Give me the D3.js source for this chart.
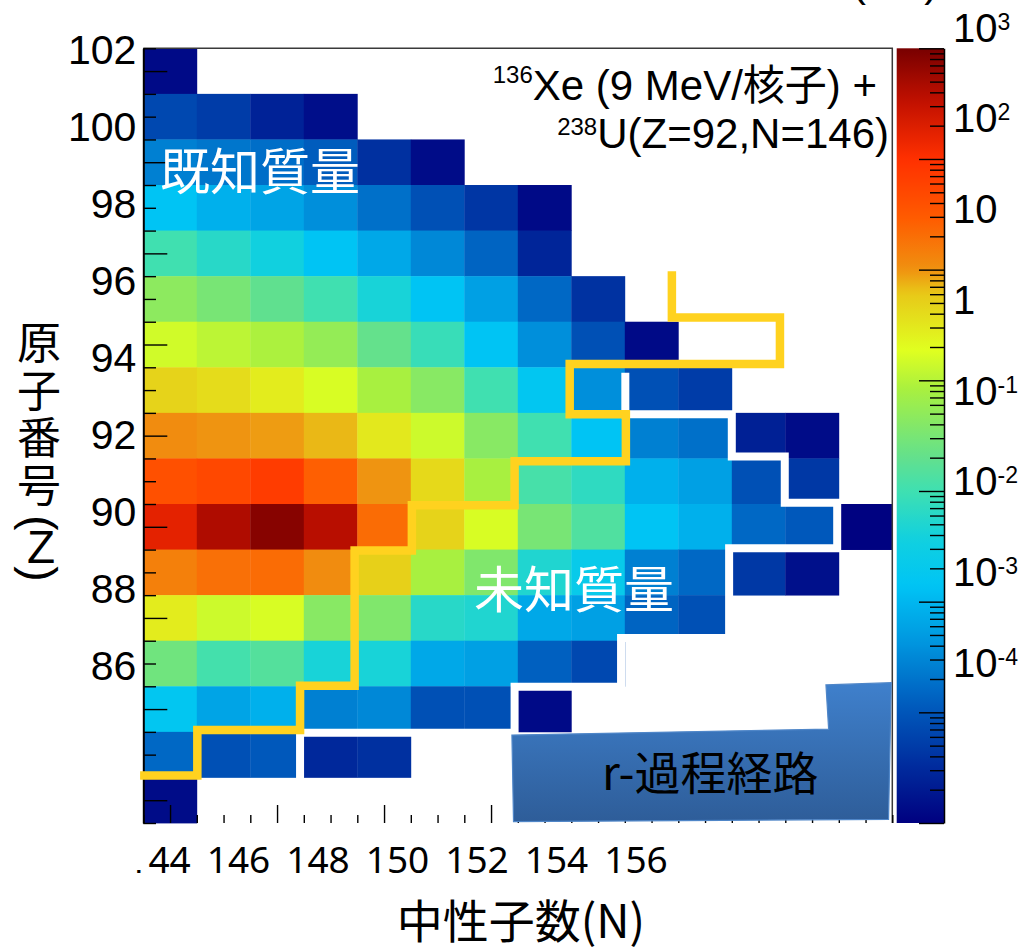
<!DOCTYPE html>
<html>
<head>
<meta charset="utf-8">
<script src="https://d3js.org/d3.v7.min.js"></script>
<style>
  body { margin: 0; background: white; }
  svg { display: block; }
  .ann { font-family: "Liberation Sans", Arial, "Noto Sans CJK JP", sans-serif; }
  .cjk { font-family: "Noto Sans CJK JP", sans-serif; }
</style>
</head>
<body>
<svg id="chart" width="1025" height="949"></svg>
<script>
// columns: neutron number N, rows: proton number Z (top row = 102)
var nValues = d3.range(144, 158);
var zValues = d3.range(102, 85, -1);

// log10 of the yield, each row starts at N = 144
var row102 = [-3.88];
var row101 = [-3.16, -3.30, -3.60, -3.83];
var row100 = [-2.58, -2.68, -2.75, -2.93, -3.43, -3.86];
var row99  = [-1.85, -2.07, -2.21, -2.43, -2.73, -3.07, -3.36, -3.88];
var row98  = [-0.99, -1.22, -1.44, -1.85, -2.17, -2.50, -2.85, -3.56];
var row97  = [-0.33, -0.51, -0.72, -0.99, -1.37, -1.85, -2.26, -2.81, -3.41];
var row96  = [0.17, 0.04, -0.06, -0.26, -0.69, -1.07, -1.85, -2.43, -3.07, -3.88];
var row95  = [0.68, 0.60, 0.45, 0.22, -0.09, -0.37, -0.99, -1.80, -2.43, -3.07, -3.30];
var row94  = [1.04, 0.99, 0.96, 0.85, 0.49, 0.14, -0.37, -0.99, -1.85, -2.58, -2.73, -3.62, -3.86];
var row93  = [1.60, 1.70, 1.85, 1.43, 0.99, 0.63, -0.09, -0.93, -1.15, -2.07, -2.26, -3.07, -3.34];
var row92  = [2.23, 2.64, 2.90, 2.58, 1.32, 0.68, 0.22, -0.51, -0.86, -1.85, -2.07, -2.81, -2.98, -3.98];
var row91  = [1.14, 1.28, 1.32, 1.04, 0.71, -0.09, -0.44, -1.29, -1.65, -2.58, -2.81, -3.34, -3.81];
var row90  = [0.45, 0.14, 0.22, -0.37, -0.44, -1.22, -1.29, -2.17, -2.26, -2.85, -3.07];
var row89  = [-0.58, -0.96, -0.82, -1.37, -1.37, -2.17, -2.26, -2.89, -3.16];
var row88  = [-1.80, -2.21, -2.07, -2.58, -2.50, -3.07, -3.07, -3.88];
var row87  = [-2.81, -3.07, -2.98, -3.53, -3.43];
var row86  = [-3.86];
var rows = [row102, row101, row100, row99, row98, row97, row96, row95, row94,
            row93, row92, row91, row90, row89, row88, row87, row86];

// tick labels as printed
var zLabels = [102, 100, 98, 96, 94, 92, 90, 88, 86];
var nLabels = [144, 146, 148, 150, 152, 154, 156];
var cbExponents = [3, 2, 1, 0, -1, -2, -3, -4];

// boundary of known masses (yellow) and of the unknown region (white), in (N, Z)
var knownEdge = [[143.44, 86.54], [144.51, 86.54], [144.51, 87.54], [146.43, 87.54], [146.43, 88.51],
  [147.45, 88.51], [147.45, 91.48], [148.52, 91.48], [148.52, 92.47], [150.44, 92.47], [150.44, 93.44],
  [152.52, 93.44], [152.52, 94.47], [151.47, 94.47], [151.47, 95.57], [155.4, 95.57], [155.4, 96.59],
  [153.38, 96.59], [153.38, 97.61]];
var unknownEdge = [[146.43, 86.49], [146.43, 87.48], [150.44, 87.48], [150.44, 88.49], [152.43, 88.49],
  [152.43, 89.56], [154.45, 89.56], [154.45, 91.53], [156.47, 91.53], [156.47, 92.53], [155.49, 92.53],
  [155.49, 93.54], [154.5, 93.54], [154.5, 94.47], [152.51, 94.47], [152.51, 95.38]];
var rProcessBox = [[150.39, 87.43], [150.42, 85.53], [157.43, 85.58], [157.48, 88.58], [156.26, 88.53],
  [156.31, 87.56]];

var svg = d3.select("#chart");
var pLeft = 143.3, pRight = 892.3, pTop = 48.3, pBottom = 823;

var x = d3.scaleBand().domain(nValues).range([pLeft, pRight]);
var y = d3.scaleBand().domain(zValues).range([pTop, pBottom]);
var xLin = d3.scaleLinear().domain([143.5, 157.5]).range([pLeft, pRight]);
var yLin = d3.scaleLinear().domain([102.5, 85.5]).range([pTop, pBottom]);

var tStops = [0, 0.081, 0.159, 0.236, 0.288, 0.307, 0.365, 0.43, 0.468, 0.559, 0.61, 0.684, 0.715, 0.782, 0.857, 0.933, 1];
var cStops = ["#000080", "#0030a0", "#0060c0", "#0098e0", "#00b8f0", "#00c4f4", "#10d0e0", "#40e0b0", "#60e090",
  "#a8f040", "#e0ff20", "#e8c818", "#f09010", "#ff5a00", "#ff3000", "#c01000", "#780000"];
var palette = d3.scaleLinear().domain(tStops).range(cStops).interpolate(d3.interpolateRgb).clamp(true);
var logMin = -4, logMax = 3;
var color = v => palette((v - logMin) / (logMax - logMin));

var cells = [];
rows.forEach((r, i) => r.forEach((v, j) => cells.push({n: nValues[j], z: zValues[i], v: v})));

svg.append("g").selectAll("rect").data(cells).join("rect")
  .attr("x", d => x(d.n)).attr("y", d => y(d.z))
  .attr("width", x.bandwidth() + 0.4).attr("height", y.bandwidth() + 0.4)
  .attr("fill", d => color(d.v));

// frame
svg.append("path")
  .attr("d", "M" + pLeft + "," + pTop + "H" + pRight + "V" + pBottom)
  .attr("fill", "none").attr("stroke", "#3a3a3a").attr("stroke-width", 1.5);

// y ticks
var zMinor = d3.range(85.5, 102.51, 0.5).filter(v => !(v % 2 == 0));
svg.append("g").attr("transform", "translate(" + pLeft + ",0)")
  .call(d3.axisRight(yLin).tickValues(zMinor).tickSize(12.7).tickSizeOuter(0).tickFormat(""))
  .call(g => g.select(".domain").remove());
svg.append("g").attr("transform", "translate(" + pLeft + ",0)")
  .call(d3.axisRight(yLin).tickValues(d3.range(86, 103, 2)).tickSize(24).tickSizeOuter(0).tickFormat(""))
  .call(g => g.select(".domain").attr("stroke-width", 2));

// x ticks
var nMinor = d3.range(143.5, 157.51, 0.5).filter(v => !(v % 2 == 0 && v <= 156));
svg.append("g").attr("transform", "translate(0," + pBottom + ")")
  .call(d3.axisTop(xLin).tickValues(nMinor).tickSize(8).tickSizeOuter(0).tickFormat(""))
  .call(g => g.select(".domain").remove());
svg.append("g").attr("transform", "translate(0," + pBottom + ")")
  .call(d3.axisTop(xLin).tickValues(d3.range(144, 157, 2)).tickSize(18).tickSizeOuter(0).tickFormat(""))
  .call(g => g.select(".domain").remove());
svg.selectAll(".tick line").attr("stroke", "#000").attr("stroke-width", 1.4);

// boundary lines
var line = d3.line().x(d => xLin(d[0])).y(d => yLin(d[1]));
svg.append("path").attr("d", line(unknownEdge))
  .attr("fill", "none").attr("stroke", "#ffffff").attr("stroke-width", 8);
svg.append("path").attr("d", line(knownEdge))
  .attr("fill", "none").attr("stroke", "#ffd21f").attr("stroke-width", 8.5);

// r-process box
var defs = svg.append("defs");
var bg = defs.append("linearGradient").attr("id", "boxGrad")
  .attr("x1", 0).attr("y1", 0).attr("x2", 0).attr("y2", 1);
bg.append("stop").attr("offset", 0).attr("stop-color", "#3f80cc");
bg.append("stop").attr("offset", 1).attr("stop-color", "#2e5d99");
svg.append("path").attr("d", line(rProcessBox) + "Z")
  .attr("fill", "url(#boxGrad)").attr("stroke", "#4f86c8").attr("stroke-width", 1.2);

// labels in the plot
svg.append("text").attr("class", "cjk").attr("x", 160).attr("y", 189.5)
  .attr("font-size", 50).attr("fill", "#fff").text("既知質量");
svg.append("text").attr("class", "cjk").attr("x", 474).attr("y", 608)
  .attr("font-size", 50).attr("fill", "#fff").text("未知質量");
svg.append("text").attr("class", "cjk").attr("x", 602).attr("y", 790)
  .attr("font-size", 46).attr("fill", "#000").text("r-過程経路");

var t1 = svg.append("text").attr("class", "ann").attr("x", 877).attr("y", 99.5)
  .attr("text-anchor", "end").attr("font-size", 42);
t1.append("tspan").attr("font-size", 24).attr("dy", -16.5).text("136");
t1.append("tspan").attr("dy", 16.5).text("Xe (9 MeV/核子) +");
var t2 = svg.append("text").attr("class", "ann").attr("x", 889).attr("y", 148.3)
  .attr("text-anchor", "end").attr("font-size", 42);
t2.append("tspan").attr("font-size", 24).attr("dy", -13.5).text("238");
t2.append("tspan").attr("dy", 13.5).text("U(Z=92,N=146)");

// y tick labels
var yLabel = d3.scaleLinear().domain([102, 86]).range([48.5, 665]);
svg.append("g").attr("transform", "translate(" + pLeft + ",0)")
  .call(d3.axisLeft(yLabel).tickValues(zLabels).tickSize(0).tickPadding(7))
  .call(g => g.select(".domain").remove())
  .call(g => g.selectAll("text").attr("font-family", "'Liberation Sans', Arial, sans-serif")
    .attr("font-size", 41).attr("dy", "0.36em").attr("fill", "#000"));

// x tick labels
var xLabel = d3.scaleLinear().domain([144, 156]).range([158.5, 635.5]);
svg.append("g").attr("transform", "translate(0," + pBottom + ")")
  .call(d3.axisBottom(xLabel).tickValues(nLabels).tickSize(0).tickPadding(24))
  .call(g => g.select(".domain").remove())
  .call(g => g.selectAll("text").attr("font-family", "'Noto Sans', sans-serif")
    .attr("font-size", 37).attr("fill", "#000"));
svg.append("rect").attr("x", 122).attr("y", 835).attr("width", 23).attr("height", 35).attr("fill", "#fff");

// axis titles
svg.append("text").attr("class", "cjk").attr("x", 521).attr("y", 938)
  .attr("text-anchor", "middle").attr("font-size", 46).text("中性子数(N)");
var yTitle = ["原", "子", "番", "号"];
svg.append("g").selectAll("text").data(yTitle).join("text").attr("class", "cjk")
  .attr("x", 39).attr("y", (d, i) => 359 + i * 47.6)
  .attr("text-anchor", "middle").attr("font-size", 44).text(d => d);
svg.append("text").attr("class", "ann").attr("transform", "translate(36,523) rotate(90)")
  .attr("text-anchor", "middle").attr("dy", "0.26em").attr("font-size", 46).text("(");
svg.append("text").attr("class", "ann").attr("x", 41).attr("y", 563)
  .attr("text-anchor", "middle").attr("font-size", 46).text("Z");
svg.append("text").attr("class", "ann").attr("transform", "translate(36,574) rotate(90)")
  .attr("text-anchor", "middle").attr("dy", "0.26em").attr("font-size", 46).text(")");

// colour bar
var cbX = 896.7, cbW = 47.3;
var grad = defs.append("linearGradient").attr("id", "cbGrad")
  .attr("x1", 0).attr("y1", 1).attr("x2", 0).attr("y2", 0);
grad.selectAll("stop").data(d3.range(0, 1.0001, 0.01)).join("stop")
  .attr("offset", d => d).attr("stop-color", d => palette(d));
svg.append("rect").attr("x", cbX).attr("y", pTop).attr("width", cbW).attr("height", pBottom - pTop)
  .attr("fill", "url(#cbGrad)");

var cScale = d3.scaleLog().domain([1e-4, 1e3]).range([pBottom, pTop]);
var decades = d3.range(-4, 4).map(e => Math.pow(10, e));
var minors = [];
d3.range(-4, 3).forEach(e => d3.range(2, 10).forEach(k => minors.push(k * Math.pow(10, e))));
svg.append("g").attr("transform", "translate(" + (cbX + cbW) + ",0)")
  .call(d3.axisLeft(cScale).tickValues(minors).tickSize(14).tickSizeOuter(0).tickFormat(""))
  .call(g => g.select(".domain").remove());
svg.append("g").attr("transform", "translate(" + (cbX + cbW) + ",0)")
  .call(d3.axisLeft(cScale).tickValues(decades).tickSize(25).tickSizeOuter(0).tickFormat(""))
  .call(g => g.select(".domain").attr("stroke-width", 1.5));
svg.selectAll(".tick line").attr("stroke", "#000").attr("stroke-width", 1.4);

var cbLabel = d3.scaleLinear().domain([3, -4]).range([41.7, 676.6]);
var cbText = svg.append("g").selectAll("text").data(cbExponents).join("text").attr("class", "ann")
  .attr("x", 953).attr("y", d => cbLabel(d)).attr("font-size", 40);
cbText.append("tspan").text(d => d == 0 ? "1" : "10");
cbText.filter(d => d != 0 && d != 1).append("tspan")
  .attr("font-size", 23).attr("dy", -12).text(d => d);

// title of the colour bar, mostly above the page edge
svg.append("text").attr("class", "ann").attr("x", 852).attr("y", -4)
  .attr("font-size", 42).text("(mb)");
</script>
</body>
</html>
